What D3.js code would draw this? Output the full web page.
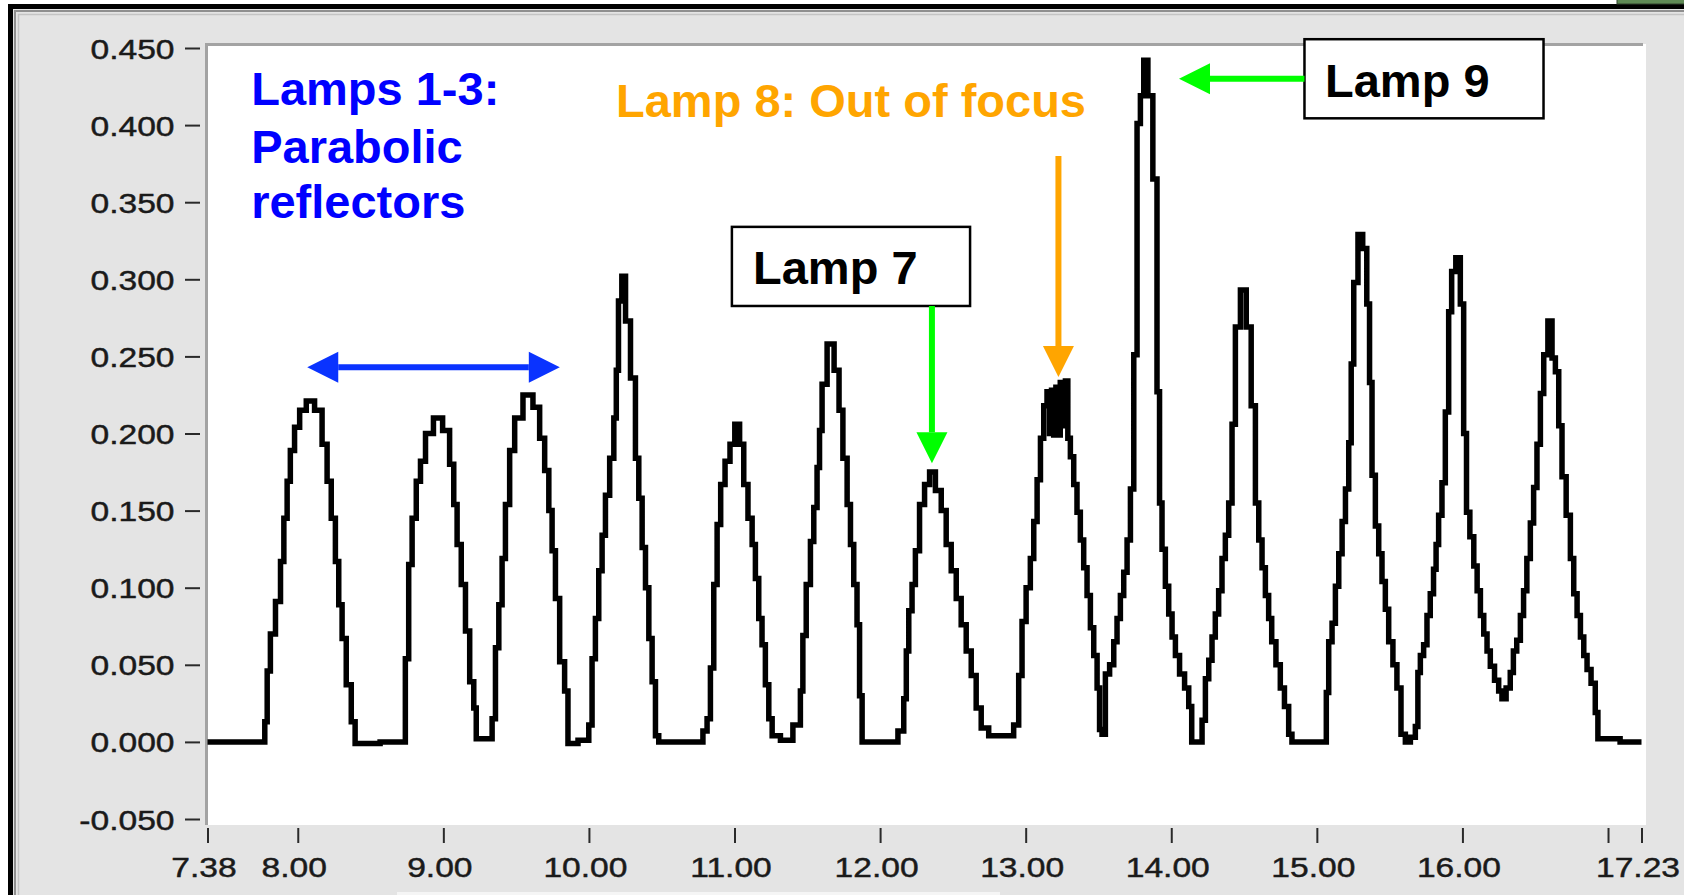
<!DOCTYPE html>
<html>
<head>
<meta charset="utf-8">
<script src="https://cdnjs.cloudflare.com/ajax/libs/d3/7.8.5/d3.min.js"></script>
<style>
  body { margin: 0; background: #fff; }
  svg { display: block; }
  .tick text { font-family: "Liberation Sans", Arial, sans-serif; font-size: 28px; fill: #1a1a1a; stroke: #1a1a1a; stroke-width: 0.45px; }
  .note { font-family: "Liberation Sans", Arial, sans-serif; font-weight: bold; font-size: 47px; }
</style>
</head>
<body>
<div id="chart"></div>
<script>
var W = 1684, H = 895;
var plot = {left: 206, top: 44, right: 1646, bottom: 825};

// axis ticks
var xTicks = [7.38, 8, 9, 10, 11, 12, 13, 14, 15, 16, 17, 17.23];
var xTickLabels = ["7.38", "8.00", "9.00", "10.00", "11.00", "12.00", "13.00", "14.00", "15.00", "16.00", "", "17.23"];
var yTicks = [0.45, 0.4, 0.35, 0.3, 0.25, 0.2, 0.15, 0.1, 0.05, 0, -0.05];
var yTickLabels = ["0.450", "0.400", "0.350", "0.300", "0.250", "0.200", "0.150", "0.100", "0.050", "0.000", "-0.050"];

// measured trace: [position, signal]
var trace = [
  [7.38, 0], [7.767, 0],
  [7.78, 0.013], [7.80, 0.046], [7.824, 0.070], [7.87, 0.091], [7.893, 0.117], [7.916, 0.145], [7.938, 0.169],
  [7.96, 0.189], [7.996, 0.204], [8.03, 0.215], [8.087, 0.221], [8.144, 0.215], [8.19, 0.193], [8.213, 0.169],
  [8.247, 0.145], [8.27, 0.117], [8.293, 0.089], [8.316, 0.067], [8.35, 0.037], [8.385, 0.013], [8.403, -0.001],
  [8.728, 0],
  [8.75, 0.054], [8.774, 0.115], [8.797, 0.145], [8.831, 0.169], [8.855, 0.182], [8.90, 0.200], [8.964, 0.210],
  [9.026, 0.202], [9.06, 0.180], [9.083, 0.154], [9.106, 0.128], [9.14, 0.102], [9.164, 0.072], [9.198, 0.039],
  [9.22, 0.022], [9.232, 0.002], [9.324, 0.002], [9.346, 0.015],
  [9.37, 0.061], [9.392, 0.089], [9.415, 0.119], [9.438, 0.154], [9.473, 0.189], [9.507, 0.210], [9.587, 0.225],
  [9.644, 0.217], [9.679, 0.197], [9.713, 0.176], [9.736, 0.150], [9.758, 0.124], [9.782, 0.093], [9.816, 0.052],
  [9.85, 0.033], [9.862, -0.001], [9.988, 0.001], [10.01, 0.011],
  [10.033, 0.054], [10.056, 0.080], [10.079, 0.111], [10.102, 0.134], [10.125, 0.160], [10.16, 0.184], [10.182, 0.210],
  [10.194, 0.241], [10.212, 0.286], [10.24, 0.302], [10.263, 0.273], [10.308, 0.236], [10.331, 0.184], [10.354, 0.158],
  [10.377, 0.126], [10.40, 0.100], [10.423, 0.067], [10.445, 0.039], [10.469, 0.004], [10.49, 0], [10.766, 0],
  [10.80, 0.007], [10.823, 0.015], [10.846, 0.048], [10.869, 0.102], [10.892, 0.141], [10.918, 0.167], [10.952, 0.182],
  [10.986, 0.193], [11.018, 0.206], [11.052, 0.193], [11.075, 0.167], [11.11, 0.145], [11.132, 0.128], [11.155, 0.106],
  [11.178, 0.080], [11.20, 0.063], [11.224, 0.037], [11.247, 0.015], [11.27, 0.004], [11.361, 0.001], [11.441, 0.011],
  [11.464, 0.033],
  [11.475, 0.069], [11.51, 0.102], [11.533, 0.130], [11.556, 0.152], [11.578, 0.178], [11.59, 0.202], [11.613, 0.232],
  [11.659, 0.258], [11.709, 0.241], [11.727, 0.215], [11.762, 0.184], [11.785, 0.154], [11.808, 0.128], [11.83, 0.102],
  [11.853, 0.076], [11.865, 0.030], [11.888, 0], [12.094, 0], [12.151, 0.007], [12.174, 0.028],
  [12.186, 0.059], [12.208, 0.085], [12.231, 0.102], [12.254, 0.124], [12.288, 0.154], [12.323, 0.167], [12.357, 0.175],
  [12.403, 0.163], [12.437, 0.150], [12.471, 0.128], [12.506, 0.111], [12.54, 0.093], [12.574, 0.076], [12.609, 0.059],
  [12.643, 0.043], [12.677, 0.022], [12.712, 0.009], [12.78, 0.004], [12.895, 0.004], [12.94, 0.011],
  [12.964, 0.043], [12.986, 0.078], [13.02, 0.100], [13.044, 0.119], [13.067, 0.143], [13.09, 0.170], [13.113, 0.197],
  [13.135, 0.218], [13.158, 0.227], [13.17, 0.200], [13.185, 0.228], [13.20, 0.199], [13.215, 0.230], [13.23, 0.199],
  [13.245, 0.233], [13.262, 0.205], [13.284, 0.234], [13.295, 0.197], [13.319, 0.185], [13.341, 0.167], [13.364, 0.149],
  [13.387, 0.131], [13.41, 0.113], [13.433, 0.095], [13.456, 0.074], [13.479, 0.056], [13.502, 0.035], [13.513, 0.008],
  [13.536, 0.005],
  [13.559, 0.044], [13.594, 0.050], [13.616, 0.065], [13.639, 0.080], [13.662, 0.095], [13.685, 0.110], [13.708, 0.131],
  [13.731, 0.164], [13.754, 0.251], [13.776, 0.401], [13.80, 0.419], [13.822, 0.442], [13.857, 0.419], [13.89, 0.365],
  [13.914, 0.227], [13.925, 0.155], [13.948, 0.125], [13.971, 0.101], [13.994, 0.083], [14.017, 0.068], [14.04, 0.056],
  [14.074, 0.044], [14.109, 0.035], [14.131, 0.023], [14.15, 0], [14.20, 0], [14.223, 0.014],
  [14.246, 0.041], [14.269, 0.053], [14.291, 0.068], [14.314, 0.083], [14.337, 0.098], [14.36, 0.119], [14.383, 0.134],
  [14.406, 0.155], [14.429, 0.206], [14.452, 0.269], [14.498, 0.293], [14.532, 0.269], [14.566, 0.218], [14.59, 0.155],
  [14.612, 0.131], [14.635, 0.113], [14.658, 0.095], [14.68, 0.080], [14.70, 0.065], [14.738, 0.050], [14.76, 0.035],
  [14.795, 0.023], [14.818, 0.005], [14.84, 0], [15.06, 0],
  [15.07, 0.032], [15.093, 0.065], [15.116, 0.077], [15.139, 0.101], [15.162, 0.122], [15.185, 0.143], [15.208, 0.164],
  [15.23, 0.194], [15.242, 0.245], [15.265, 0.298], [15.30, 0.329], [15.33, 0.320], [15.356, 0.284], [15.368, 0.233],
  [15.39, 0.173], [15.414, 0.140], [15.436, 0.122], [15.459, 0.104], [15.482, 0.086], [15.505, 0.065], [15.54, 0.050],
  [15.56, 0.035], [15.596, 0.005], [15.62, 0], [15.665, 0.003], [15.688, 0.010],
  [15.70, 0.045], [15.722, 0.056], [15.745, 0.063], [15.768, 0.082], [15.79, 0.096], [15.813, 0.112], [15.825, 0.128],
  [15.848, 0.147], [15.871, 0.168], [15.894, 0.214], [15.917, 0.279], [15.935, 0.305], [15.974, 0.314], [15.997, 0.284],
  [16.02, 0.200], [16.036, 0.149], [16.066, 0.133], [16.09, 0.114], [16.112, 0.098], [16.135, 0.082], [16.158, 0.070],
  [16.18, 0.059], [16.203, 0.049], [16.238, 0.040], [16.26, 0.033], [16.283, 0.028],
  [16.317, 0.035], [16.34, 0.045], [16.36, 0.059], [16.386, 0.066], [16.41, 0.082], [16.43, 0.098], [16.455, 0.119],
  [16.478, 0.142], [16.50, 0.165], [16.524, 0.193], [16.547, 0.226], [16.57, 0.251], [16.604, 0.273], [16.627, 0.249],
  [16.65, 0.240], [16.673, 0.205], [16.695, 0.172], [16.73, 0.147], [16.753, 0.119], [16.776, 0.096], [16.799, 0.082],
  [16.822, 0.068], [16.845, 0.056], [16.867, 0.047], [16.90, 0.038], [16.925, 0.019], [16.936, 0.002], [17.23, 0]
];

var x = d3.scaleLinear().domain([7.38, 17.23]).range([207.5, 1641.5]);
var y = d3.scaleLinear().domain([-0.05, 0.45]).range([819, 48]);

var svg = d3.select("#chart").append("svg")
  .attr("width", W)
  .attr("height", H);

//////////////////////////// window frame ////////////////////////////
svg.append("rect").attr("width", W).attr("height", H).attr("fill", "#fff");
svg.append("rect").attr("x", 8).attr("y", 4).attr("width", W).attr("height", H).attr("fill", "#000");
svg.append("rect").attr("x", 13).attr("y", 9).attr("width", W).attr("height", H).attr("fill", "#e4e4e4");
svg.append("path").attr("d", "M15," + H + "V11H" + W).attr("fill", "none").attr("stroke", "#8f8f8f").attr("stroke-width", 2);
svg.append("path").attr("d", "M18.5," + H + "V14.5H" + W).attr("fill", "none").attr("stroke", "#c4c4c4").attr("stroke-width", 1.5);
svg.append("rect").attr("x", 1617).attr("y", -1).attr("width", 70).attr("height", 5)
  .attr("fill", "#5f8a55").attr("stroke", "#2e3e2b").attr("stroke-width", 1);
svg.append("rect").attr("x", 397).attr("y", 892).attr("width", 603).attr("height", 3).attr("fill", "#f5f5f5");

//////////////////////////// plot area ////////////////////////////
svg.append("rect")
  .attr("x", plot.left).attr("y", plot.top)
  .attr("width", plot.right - plot.left).attr("height", plot.bottom - plot.top)
  .attr("fill", "#fff");
svg.append("path")
  .attr("d", "M" + (plot.left + 0.5) + "," + plot.bottom + "V" + (plot.top + 0.5) + "H" + (plot.right - 3))
  .attr("fill", "none").attr("stroke", "#a3a3a3").attr("stroke-width", 3);

//////////////////////////// axes ////////////////////////////
var yAxis = svg.append("g")
  .attr("transform", "translate(" + plot.left + ",0)")
  .call(d3.axisLeft(y).tickValues(yTicks)
    .tickFormat(function(d) { return yTickLabels[yTicks.indexOf(d)]; }));
yAxis.select(".domain").remove();
yAxis.selectAll(".tick line").attr("x1", -6).attr("x2", -21).attr("stroke", "#2a2a2a").attr("stroke-width", 2);
yAxis.selectAll(".tick text")
  .attr("x", 0).attr("dy", "0.36em")
  .attr("transform", "translate(-31.5,0) scale(1.2,1)");

var xAxis = svg.append("g")
  .attr("transform", "translate(0," + plot.bottom + ")")
  .call(d3.axisBottom(x).tickValues(xTicks)
    .tickFormat(function(d) { return xTickLabels[xTicks.indexOf(d)]; }));
xAxis.select(".domain").remove();
xAxis.selectAll(".tick line").attr("y1", 3).attr("y2", 18).attr("stroke", "#2a2a2a").attr("stroke-width", 2);
xAxis.selectAll(".tick text")
  .attr("y", 0).attr("dy", 0)
  .attr("transform", "translate(-4,52) scale(1.2,1)");

//////////////////////////// trace ////////////////////////////
var line = d3.line()
  .x(function(d) { return x(d[0]); })
  .y(function(d) { return y(d[1]); })
  .curve(d3.curveStep);

svg.append("path")
  .datum(trace)
  .attr("d", line)
  .attr("fill", "none")
  .attr("stroke", "#000")
  .attr("stroke-width", 5.5)
  .attr("stroke-linejoin", "miter");

//////////////////////////// annotations ////////////////////////////
var notes = svg.append("g");

function arrow(x1, y1, x2, y2, color, both) {
  var dx = x2 - x1, dy = y2 - y1, len = Math.sqrt(dx * dx + dy * dy);
  var ux = dx / len, uy = dy / len, hl = 31, hw = 15.5;
  var sx = both ? x1 + ux * hl : x1, sy = both ? y1 + uy * hl : y1;
  notes.append("line")
    .attr("x1", sx).attr("y1", sy)
    .attr("x2", x2 - ux * hl).attr("y2", y2 - uy * hl)
    .attr("stroke", color).attr("stroke-width", 6);
  function head(tx, ty, vx, vy) {
    var bx = tx - vx * hl, by = ty - vy * hl;
    notes.append("polygon")
      .attr("points", [[tx, ty], [bx - vy * hw, by + vx * hw], [bx + vy * hw, by - vx * hw]].join(" "))
      .attr("fill", color);
  }
  head(x2, y2, ux, uy);
  if (both) head(x1, y1, -ux, -uy);
}

function box(xa, xb, ya, yb) {
  notes.append("rect")
    .attr("x", x(xa)).attr("y", y(ya))
    .attr("width", x(xb) - x(xa)).attr("height", y(yb) - y(ya))
    .attr("fill", "#fff").attr("stroke", "#000").attr("stroke-width", 2.5);
}

function label(txt, px, py, color) {
  notes.append("text").attr("class", "note")
    .attr("x", x(px)).attr("y", y(py))
    .attr("fill", color).text(txt);
}

// lamps 1-3
label("Lamps 1-3:", 7.68, 0.4131, "#0000ff");
label("Parabolic", 7.68, 0.3757, "#0000ff");
label("reflectors", 7.68, 0.3396, "#0000ff");
arrow(x(8.065), y(0.243), x(9.80), y(0.243), "#0a33ff", true);

// lamp 7
box(10.982, 12.618, 0.334, 0.2827);
label("Lamp 7", 11.127, 0.297, "#000");
arrow(x(12.356), y(0.2827), x(12.356), y(0.1807), "#00ff00", false);

// lamp 8
label("Lamp 8: Out of focus", 10.186, 0.4051, "#ffa500");
arrow(x(13.225), y(0.380), x(13.225), y(0.2367), "#ffa500", false);

// lamp 9
box(14.915, 16.557, 0.4557, 0.4044);
label("Lamp 9", 15.056, 0.4182, "#000");
arrow(x(14.915), y(0.43), x(14.053), y(0.43), "#00ff00", false);
</script>
</body>
</html>
